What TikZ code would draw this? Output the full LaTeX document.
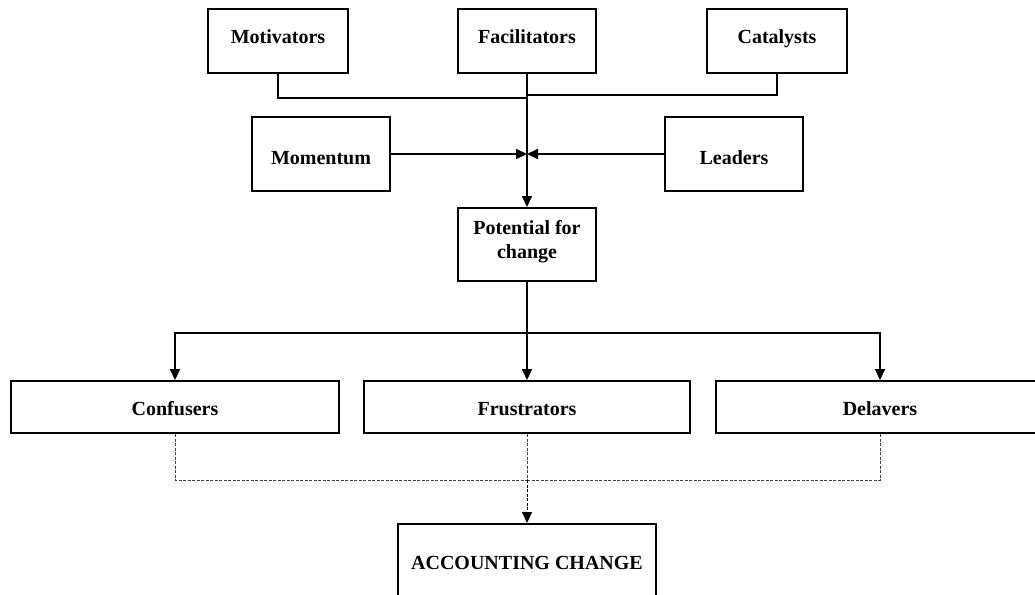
\documentclass[tikz,border=0pt]{standalone}
\usepackage{fontspec}
\setmainfont{Liberation Serif}
\usetikzlibrary{arrows.meta,calc}

\tikzset{
  box/.style={draw=black, line width=2pt, rectangle, inner sep=0pt,
    anchor=north west, align=center,
    font=\fontsize{20}{24}\selectfont\bfseries},
  toprow/.style={box, text height=35pt, text depth=29pt},
  midrow/.style={box, text height=47pt, text depth=27pt},
  lowrow/.style={box, text height=34pt, text depth=18pt},
  link/.style={draw=black, line width=2pt},
  tip/.style={-{Triangle[length=11pt,width=10pt,color=black]}},
  dotlink/.style={draw=black!75, line width=1pt, dash pattern=on 3pt off 1.5pt}
}

\begin{document}
\begin{tikzpicture}[x=1pt, y=-1pt]
  \useasboundingbox (0,0) rectangle (1035,594);
  \clip (0,0) rectangle (1035,594);

  % driving forces
  \node[toprow, minimum width=140pt] (mot) at (207,8)   {Motivators};
  \node[toprow, minimum width=138pt] (fac) at (457,8)   {Facilitators};
  \node[toprow, minimum width=140pt] (cat) at (706,8)   {Catalysts};
  \node[midrow, minimum width=138pt] (mom) at (251,116) {Momentum};
  \node[midrow, minimum width=138pt] (lea) at (664,116) {Leaders};

  % potential for change
  \node[box, text height=50pt, text depth=23pt, minimum width=138pt] (pot)
    at (457,207) {Potential for\\change};

  % barriers
  \node[lowrow, minimum width=328pt] (con) at (10,380)  {Confusers};
  \node[lowrow, minimum width=326pt] (fru) at (363,380) {Frustrators};
  \node[lowrow, minimum width=328pt] (del) at (715,380) {Delavers};

  % outcome
  \node[box, text height=45pt, text depth=47pt, minimum width=258pt] (acc)
    at (397,523) {ACCOUNTING CHANGE};

  % junction points
  \coordinate (jl)    at ($(fac.south)+(0,24)$);
  \coordinate (jr)    at ($(fac.south)+(0,21)$);
  \coordinate (meet)  at (fac.south |- mom.east);
  \coordinate (split) at ($(pot.south)+(0,51)$);
  \coordinate (merge) at ($(fru.south)+(0,46)$);

  % forces feeding the potential for change
  \draw[link] (mot.south) -- (mot.south |- jl) -- (jl);
  \draw[link] (cat.south) -- (cat.south |- jr) -- (jr);
  \draw[link, tip] (fac.south) -- (pot.north);
  \draw[link, tip] (mom.east) -- (meet);
  \draw[link, tip] (lea.west) -- (meet);

  % potential branching to the barriers
  \draw[link] (pot.south) -- (split);
  \draw[link, tip] (split) -| (con.north);
  \draw[link, tip] (split) -- (fru.north);
  \draw[link, tip] (split) -| (del.north);

  % barriers converging on the outcome
  \draw[dotlink] (con.south) |- (merge);
  \draw[dotlink] (del.south) |- (merge);
  \draw[dotlink] (fru.south) -- (merge);
  \draw[dotlink, draw=black, tip] (merge) -- (acc.north);
\end{tikzpicture}
\end{document}
